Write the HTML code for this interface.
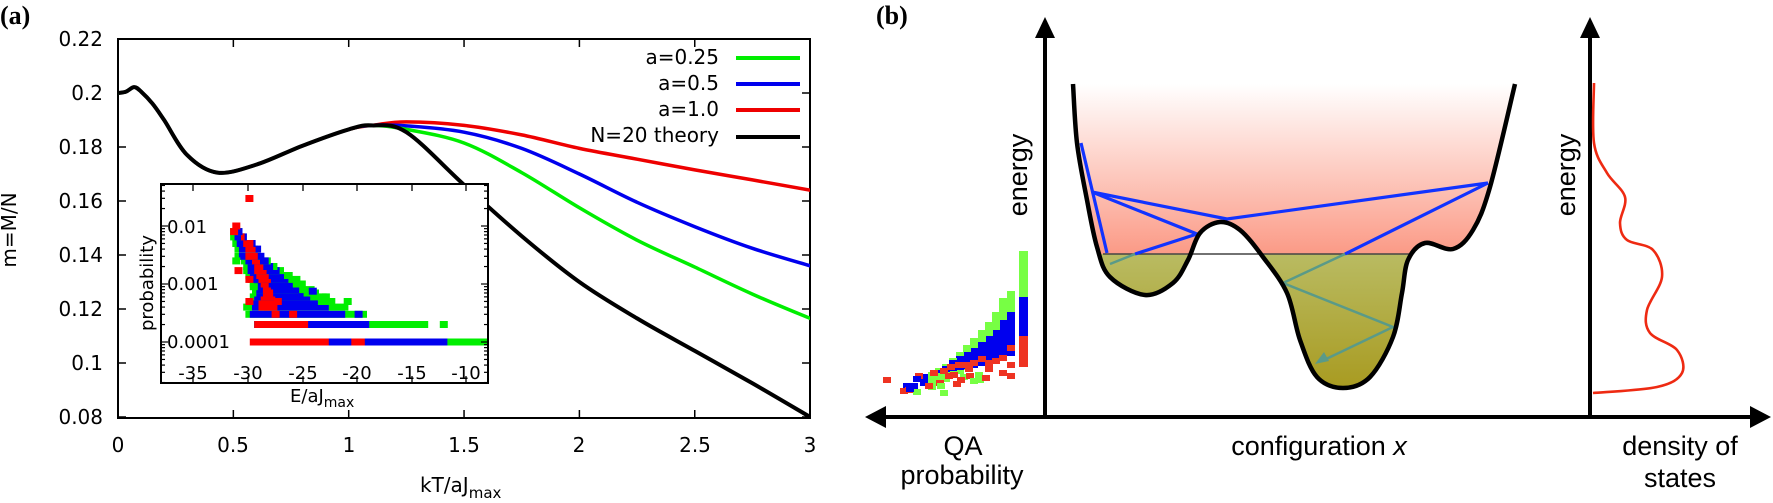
<!DOCTYPE html>
<html><head><meta charset="utf-8"><style>
html,body{margin:0;padding:0;background:#fff;width:1773px;height:503px;overflow:hidden}
svg{display:block}
.t{font-family:"DejaVu Sans","Liberation Sans",sans-serif;font-size:20px;fill:#000}
.s{font-family:"DejaVu Sans","Liberation Sans",sans-serif;font-size:18px;fill:#000}
.b{font-family:"Liberation Sans",sans-serif;font-size:27px;fill:#000}
.lab{font-family:"Liberation Serif",serif;font-weight:bold;font-size:26px;fill:#000}
</style></head><body>
<svg id="sv" width="1773" height="503" viewBox="0 0 1773 503" xmlns="http://www.w3.org/2000/svg">
<defs>
<linearGradient id="pink" x1="0" y1="84" x2="0" y2="254" gradientUnits="userSpaceOnUse">
<stop offset="0" stop-color="#ffffff"/><stop offset="1" stop-color="#fb9a86"/></linearGradient>
<linearGradient id="olive" x1="0" y1="254" x2="0" y2="392" gradientUnits="userSpaceOnUse">
<stop offset="0" stop-color="#b9bb62"/><stop offset="1" stop-color="#a89a1f"/></linearGradient>
<clipPath id="pc"><rect x="118" y="39" width="692" height="379"/></clipPath>
<clipPath id="wellc"><path id="wellclip" d=""/></clipPath>
</defs>
<text class="lab" x="0" y="24">(a)</text>
<text class="lab" x="876" y="24">(b)</text>
<g id="axA"></g>
<g id="curves" clip-path="url(#pc)"></g>
<g id="inset"></g>
<text class="t" x="103" y="46" text-anchor="end">0.22</text>
<text class="t" x="103" y="100" text-anchor="end">0.2</text>
<text class="t" x="103" y="154" text-anchor="end">0.18</text>
<text class="t" x="103" y="208" text-anchor="end">0.16</text>
<text class="t" x="103" y="262" text-anchor="end">0.14</text>
<text class="t" x="103" y="316" text-anchor="end">0.12</text>
<text class="t" x="103" y="370" text-anchor="end">0.1</text>
<text class="t" x="103" y="424" text-anchor="end">0.08</text>
<text class="t" x="118" y="452" text-anchor="middle">0</text>
<text class="t" x="233" y="452" text-anchor="middle">0.5</text>
<text class="t" x="349" y="452" text-anchor="middle">1</text>
<text class="t" x="464" y="452" text-anchor="middle">1.5</text>
<text class="t" x="579" y="452" text-anchor="middle">2</text>
<text class="t" x="695" y="452" text-anchor="middle">2.5</text>
<text class="t" x="810" y="452" text-anchor="middle">3</text>
<text class="t" x="420" y="492">kT/aJ<tspan font-size="15" dy="6">max</tspan></text>
<text class="t" transform="translate(16,230) rotate(-90)" text-anchor="middle">m=M/N</text>
<text class="t" x="719" y="64" text-anchor="end">a=0.25</text>
<text class="t" x="719" y="90" text-anchor="end">a=0.5</text>
<text class="t" x="719" y="116" text-anchor="end">a=1.0</text>
<text class="t" x="719" y="142" text-anchor="end">N=20 theory</text>
<line x1="736" y1="58" x2="800" y2="58" stroke="#00ee00" stroke-width="4"/>
<line x1="736" y1="84" x2="800" y2="84" stroke="#0000ee" stroke-width="4"/>
<line x1="736" y1="110" x2="800" y2="110" stroke="#ee0000" stroke-width="4"/>
<line x1="736" y1="137" x2="800" y2="137" stroke="#000" stroke-width="4"/>
<text class="s" x="167" y="233">0.01</text>
<text class="s" x="167" y="290">0.001</text>
<text class="s" x="167" y="348">0.0001</text>
<text class="s" x="193" y="379" text-anchor="middle">-35</text>
<text class="s" x="248" y="379" text-anchor="middle">-30</text>
<text class="s" x="303" y="379" text-anchor="middle">-25</text>
<text class="s" x="357" y="379" text-anchor="middle">-20</text>
<text class="s" x="412" y="379" text-anchor="middle">-15</text>
<text class="s" x="466" y="379" text-anchor="middle">-10</text>
<text class="s" x="290" y="402">E/aJ<tspan font-size="14" dy="5">max</tspan></text>
<text class="s" transform="translate(153,283) rotate(-90)" text-anchor="middle">probability</text>
<g id="pb"></g>
<text class="b" transform="translate(1027,175) rotate(-90)" text-anchor="middle">energy</text>
<text class="b" transform="translate(1575,175) rotate(-90)" text-anchor="middle">energy</text>
<text class="b" x="963" y="455" text-anchor="middle">QA</text>
<text class="b" x="962" y="484" text-anchor="middle">probability</text>
<text class="b" x="1319" y="455" text-anchor="middle">configuration <tspan font-style="italic">x</tspan></text>
<text class="b" x="1680" y="455" text-anchor="middle">density of</text>
<text class="b" x="1680" y="487" text-anchor="middle">states</text>
</svg>
<script>
var NS="http://www.w3.org/2000/svg";
function el(p,n,a){var e=document.createElementNS(NS,n);for(var k in a)e.setAttribute(k,a[k]);p.appendChild(e);return e;}
function cr(pts){var d="M"+pts[0][0]+","+pts[0][1];var n=pts.length;
for(var i=0;i<n-1;i++){var p0=pts[i>0?i-1:i],p1=pts[i],p2=pts[i+1],p3=pts[i+2<n?i+2:i+1];
var c1x=p1[0]+(p2[0]-p0[0])/6,c1y=p1[1]+(p2[1]-p0[1])/6,c2x=p2[0]-(p3[0]-p1[0])/6,c2y=p2[1]-(p3[1]-p1[1])/6;
d+=" C"+c1x.toFixed(1)+","+c1y.toFixed(1)+" "+c2x.toFixed(1)+","+c2y.toFixed(1)+" "+p2[0]+","+p2[1];}return d;}
var ax=document.getElementById("axA");
el(ax,"rect",{x:118,y:39,width:692,height:379,fill:"none",stroke:"#000","stroke-width":2});
for(var i=0;i<=7;i++){var y=39+i*54;el(ax,"line",{x1:118,y1:y,x2:126,y2:y,stroke:"#000","stroke-width":1.5});el(ax,"line",{x1:810,y1:y,x2:802,y2:y,stroke:"#000","stroke-width":1.5});}
for(var i=0;i<=6;i++){var x=118+i*115.35;el(ax,"line",{x1:x,y1:418,x2:x,y2:410,stroke:"#000","stroke-width":1.5});el(ax,"line",{x1:x,y1:39,x2:x,y2:47,stroke:"#000","stroke-width":1.5});}
function X(v){return 118+v*230.7;}function Y(m){return 39+(0.22-m)/0.02*54;}
var base=[[0,0.2],[0.035,0.2005],[0.07,0.2022],[0.1,0.2005],[0.15,0.196],[0.2,0.19],[0.3,0.177],[0.43,0.1705],[0.6,0.1735],[0.8,0.1805],[1.0,0.1865],[1.1,0.188]];
var ser={
g:[[1.25,0.1865],[1.5,0.1815],[1.75,0.1705],[2.0,0.1575],[2.25,0.1455],[2.5,0.1355],[2.75,0.1255],[3.0,0.1165],[3.1,0.113]],
b:[[1.25,0.1878],[1.5,0.1855],[1.75,0.1795],[2.0,0.170],[2.25,0.1595],[2.5,0.1505],[2.75,0.1425],[3.0,0.136],[3.1,0.1335]],
r:[[1.25,0.1893],[1.5,0.188],[1.75,0.1845],[2.0,0.1795],[2.25,0.1755],[2.5,0.1715],[2.75,0.1678],[3.0,0.164],[3.1,0.1625]],
k:[[1.25,0.1855],[1.5,0.166],[1.75,0.147],[2.0,0.130],[2.25,0.1165],[2.5,0.1045],[2.75,0.0925],[3.0,0.080],[3.1,0.075]]};
var cols={r:"#ee0000",b:"#0000ee",g:"#00ee00",k:"#000"};
var cg=document.getElementById("curves");
["r","b","g","k"].forEach(function(s){var pts=base.concat(ser[s]).map(function(p){return[+X(p[0]).toFixed(1),+Y(p[1]).toFixed(1)];});
el(cg,"path",{d:cr(pts),fill:"none",stroke:cols[s],"stroke-width":s=="k"?4:3.5});});
var ins=document.getElementById("inset");
el(ins,"rect",{x:161,y:184,width:327,height:199,fill:"#fff",stroke:"none"});
function IX(E){return 193+(E+35)*10.92;}function IY(p){return 342-(Math.log10(p)+4)*58;}
function bar(E1,E2,p,c){el(ins,"rect",{x:IX(E1).toFixed(1),y:(IY(p)-3.5).toFixed(1),width:(IX(E2)-IX(E1)+8).toFixed(1),height:7,fill:c});}
var G="#00ee00",B="#0000ee",R="#ff0000";
bar(-29.6,-8.7,1e-4,G);bar(-29.6,-11.4,1e-4,B);bar(-29.6,-23.3,1e-4,R);bar(-29.8,-29.2,1e-4,R);bar(-11.7,-11.2,1e-4,G);bar(-20.5,-20,1e-4,R);
bar(-12.4,-12.4,2e-4,G);bar(-29.4,-14.2,2e-4,G);bar(-29.4,-19.6,2e-4,B);bar(-29.4,-25.2,2e-4,R);
var lv=[[3,-30.2,-19.8,-21.8,-26.5],[4,-30,-21.5,-23.3,-28],[5,-30,-22.7,-24.3,-28.2],[6,-29.8,-23.5,-25,-28.2],[7,-29.6,-24.2,-25.6,-28.4],[8,-29.6,-24.6,-26,-28.6],[10,-29.8,-25.4,-26.6,-28.8],[12,-30,-25.9,-27,-28.6],[14,-30.2,-26.6,-27.4,-28.8],[17,-30.4,-27.4,-27.8,-29],[20,-30.4,-28,-28.4,-29.3],[25,-30.6,-28.6,-28.8,-29.6],[30,-31.2,-29.6,-29.2,-29.8],[40,-31.2,-29.8,-29.5,-30],[50,-31.4,-30.4,-30,-30.2],[65,-31.6,-31,-30.8,-31],[80,-31.6,-31.2,-31.2,-31.4]];
lv.forEach(function(l){var p=l[0]*1e-4;bar(l[1],l[2],p,G);bar(l[1]+0.4,l[3],p,B);if(l[0]>=4)bar(l[1]+1,l[4],p,R);});
[[-31.6,0.008,R],[-31.4,0.01,R],[-30.2,0.0298,R],[-31.4,0.0025,G],[-31.2,0.0017,R],[-30.2,0.0012,R],[-29.8,0.0009,G],[-30.4,0.0004,G],[-30.2,0.0005,R],[-28.5,0.0004,R],[-27.6,0.0005,R],[-27.8,0.0003,R],[-28.4,0.0007,R],[-26.2,0.0003,R],[-20.2,0.0003,B],[-21.2,0.0005,G],[-23.2,0.0006,G],[-24.4,0.00075,B]].forEach(function(q){bar(q[0],q[0],q[1],q[2]);});
el(ins,"rect",{x:161,y:184,width:327,height:199,fill:"none",stroke:"#000","stroke-width":2});
[193,248,303,357,412,466].forEach(function(x){el(ins,"line",{x1:x,y1:184,x2:x,y2:191,stroke:"#000","stroke-width":1.3});el(ins,"line",{x1:x,y1:383,x2:x,y2:376,stroke:"#000","stroke-width":1.3});});
for(var d=-5;d<=-1;d++){for(var k=1;k<10;k++){var y=IY(k*Math.pow(10,d));if(y<184||y>383)continue;var L=k==1?7:4;
el(ins,"line",{x1:161,y1:y,x2:161+L,y2:y,stroke:"#000","stroke-width":1.2});el(ins,"line",{x1:488,y1:y,x2:488-L,y2:y,stroke:"#000","stroke-width":1.2});}}
var pb=document.getElementById("pb");
var curve=[[1073,84],[1077,143],[1087,200],[1097,247],[1110,277],[1145,295],[1173,283],[1188,260],[1200,233],[1220,222],[1240,230],[1263,257],[1287,293],[1300,340],[1317,377],[1343,388],[1370,377],[1393,337],[1402,293],[1408,260],[1425,243],[1453,249],[1473,230],[1490,187],[1515,84]];
var cd=cr(curve);
el(pb,"path",{d:cd+" Z",fill:"url(#pink)"});
document.getElementById("wellclip").setAttribute("d",cd+" Z");
el(pb,"rect",{x:1060,y:254,width:400,height:150,fill:"url(#olive)","clip-path":"url(#wellc)"});
el(pb,"line",{x1:1103,y1:254,x2:1409,y2:254,stroke:"#444","stroke-width":1.5});
var bl="#1133ff";
[[[1081,143],[1107,253]],[[1092,192],[1227,219],[1488,183]],[[1092,192],[1197,234],[1135,254]],[[1488,183],[1345,254]]].forEach(function(s){el(pb,"polyline",{points:s.map(function(p){return p.join(",")}).join(" "),fill:"none",stroke:bl,"stroke-width":3.2});});
var tl="#5a9a88";
el(pb,"polyline",{points:"1110,264 1135,254",fill:"none",stroke:tl,"stroke-width":2.5});
el(pb,"polyline",{points:"1345,254 1283,283 1393,327 1322,361",fill:"none",stroke:tl,"stroke-width":2.5});
el(pb,"polygon",{points:"1315,364 1324,352 1329,361",fill:tl});
el(pb,"path",{d:cd,fill:"none",stroke:"#000","stroke-width":4.5});
el(pb,"line",{x1:1045,y1:36,x2:1045,y2:418,stroke:"#000","stroke-width":4});
el(pb,"polygon",{points:"1045,17 1035,38 1055,38",fill:"#000"});
el(pb,"line",{x1:1590,y1:36,x2:1590,y2:418,stroke:"#000","stroke-width":4});
el(pb,"polygon",{points:"1590,17 1580,38 1600,38",fill:"#000"});
el(pb,"line",{x1:884,y1:417,x2:1752,y2:417,stroke:"#000","stroke-width":4});
el(pb,"polygon",{points:"865,417 886,406 886,428",fill:"#000"});
el(pb,"polygon",{points:"1771,417 1750,406 1750,428",fill:"#000"});
var dos=[[1594,83],[1594,143],[1607,173],[1625,197],[1620,223],[1627,240],[1653,250],[1662,277],[1647,310],[1650,333],[1677,350],[1682,373],[1657,387],[1593,393]];
el(pb,"path",{d:cr(dos),fill:"none",stroke:"#ee2a12","stroke-width":2.6});
var g2="#77ff44",b2="#0000ee",r2="#ee3322";
function rr(x,y,w,h,c){el(pb,"rect",{x:x,y:y,width:w,height:h,fill:c});}
rr(1019,251,9,46,g2);rr(1019,297,9,39,b2);rr(1019,336,9,31,r2);
var colsH=[[1007,291,312,318,356],[999,298,320,328,360],[992,312,330,338,362],[985,322,336,343,364],[978,330,342,348,366],[970,338,348,352,368],[963,345,352,356,369],[956,352,356,360,370],[949,358,360,364,371],[942,364,366,368,372],[935,368,370,372,373],[928,372,374,376,374]];
colsH.forEach(function(c){rr(c[0],c[1],8,c[3]-c[1]+14,g2);rr(c[0],c[2],8,c[4]-c[2],b2);});
[[1007,345,r2],[999,355,r2],[992,358,r2],[985,360,r2],[978,356,r2],[970,360,r2],[963,362,r2],[955,362,r2],[947,364,r2],[940,368,r2],[930,370,r2],[1007,362,r2],[1007,373,r2],[999,370,r2],[985,366,r2],[960,374,g2],[975,372,g2],[965,366,r2],[950,372,r2],[935,376,g2],[920,374,b2],[915,373,r2],[936,380,r2],[945,373,r2],[957,377,r2],[966,373,r2],[970,378,g2],[976,377,g2],[982,375,r2],[913,376,b2],[920,380,b2],[925,383,r2],[937,383,g2],[953,381,r2],[910,383,b2],[903,383,b2],[905,387,r2],[883,377,r2],[900,388,r2],[913,389,g2],[906,386,b2],[940,390,g2]].forEach(function(q){rr(q[0],q[1],8,6,q[2]);});
</script>
</body></html>
